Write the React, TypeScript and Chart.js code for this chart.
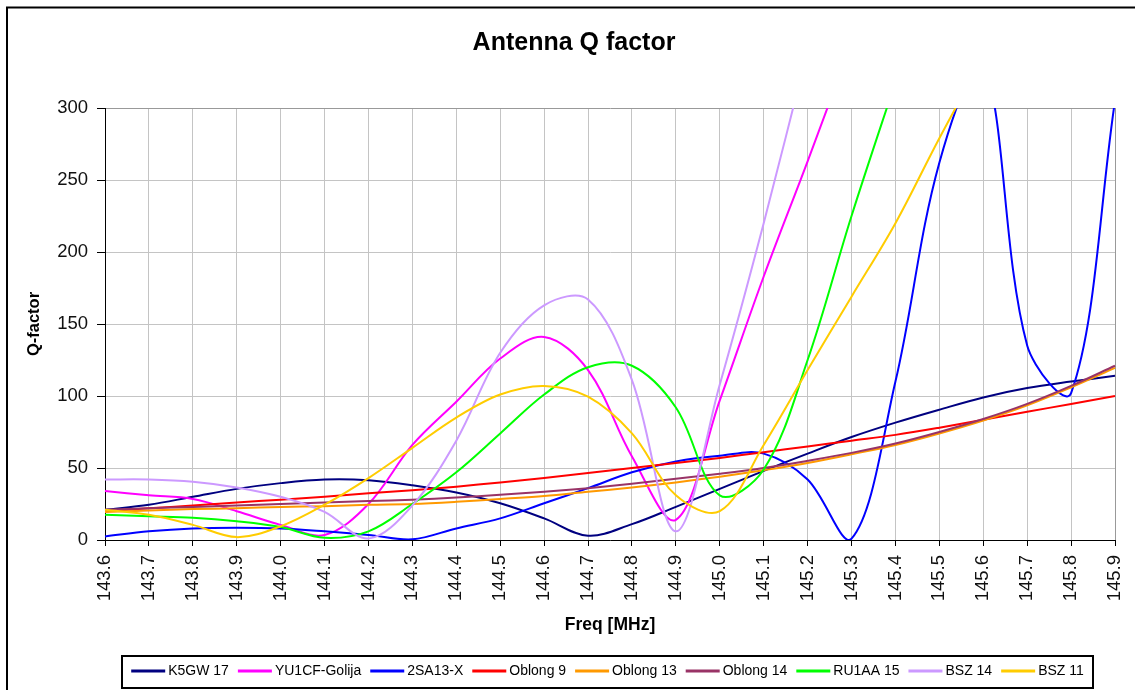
import React, { useEffect, useRef } from "react";
import { Chart, registerables } from "chart.js";

Chart.register(...registerables);

const FREQS = [
  "143.6", "143.7", "143.8", "143.9", "144.0", "144.1", "144.2", "144.3",
  "144.4", "144.5", "144.6", "144.7", "144.8", "144.9", "145.0", "145.1",
  "145.2", "145.3", "145.4", "145.5", "145.6", "145.7", "145.8", "145.9",
];

const K5GW_17 = [21, 24.5, 30, 35.5, 39.5, 42, 41.5, 38, 33, 25.5, 15, 3, 11, 23, 35.5, 48, 60, 71.5, 81.5, 90.5, 99, 105.5, 110, 114];
const YU1CF_GOLIJA = [34, 31, 28.5, 20, 10.5, 3.5, 25, 66, 96, 126, 141, 118, 58, 14, 97, 183, 263, 345, 425, 500, 570, 640, 700, 760];
const SA13_X = [2.5, 6, 8, 8.5, 8, 6, 3.5, 0.5, 8, 15, 25.5, 36, 47, 54.5, 58.5, 60, 42, 1, 110, 262, 330, 135, 102, 305];
const OBLONG_9 = [20, 22, 24, 26, 28, 30, 32.5, 34.5, 37, 40, 43, 46.5, 50, 53.5, 57, 61, 65, 69, 73, 78, 83.5, 89, 94.5, 100];
const OBLONG_13 = [19.5, 20.5, 21.5, 22, 23, 23.5, 24.5, 25, 26.5, 28.5, 30.5, 33.5, 36.5, 40, 44, 48.5, 53.5, 59.5, 66, 74, 83, 93.5, 106, 119.5];
const OBLONG_14 = [21, 22, 23, 24, 25, 26, 27, 28, 29.5, 31.5, 33.5, 36, 39, 42.5, 46, 50, 55, 60.5, 67, 75, 84, 94.5, 107, 121];
const RU1AA_15 = [17.5, 16.5, 15.5, 13, 9, 1.5, 6, 25, 47, 74, 101, 120, 121, 92, 31, 49, 125, 225, 318, 410, 490, 560, 620, 680];
const BSZ_14 = [42, 42, 40.5, 36.5, 30, 19.5, 1, 24, 69, 130, 163, 167, 111, 6, 108, 220, 340, 460, 570, 670, 760, 850, 930, 1000];
const BSZ_11 = [21, 17.5, 10.5, 2, 9.5, 24.5, 43, 64, 85, 101, 107, 99.5, 74, 31, 20, 66, 118, 169, 220, 279, 335, 390, 440, 490];

const SERIES_NAMES = ["K5GW 17", "YU1CF-Golija", "2SA13-X", "Oblong 9", "Oblong 13", "Oblong 14", "RU1AA 15", "BSZ 14", "BSZ 11"];
const SERIES_COLORS = ["#000080", "#FF00FF", "#0000FF", "#FF0000", "#FF9900", "#993366", "#00FF00", "#CC99FF", "#FFCC00"];
const SERIES_DATA = [K5GW_17, YU1CF_GOLIJA, SA13_X, OBLONG_9, OBLONG_13, OBLONG_14, RU1AA_15, BSZ_14, BSZ_11];

const Y_MIN = 0;
const Y_MAX = 300;
const Y_STEP = 50;

const TITLE = "Antenna Q factor";
const X_TITLE = "Freq [MHz]";
const Y_TITLE = "Q-factor";

const FONT = "'Liberation Sans', Arial, Helvetica, sans-serif";

const decorPlugin = {
  id: "decor",
  beforeDraw(chart: any) {
    const { ctx, width, height } = chart;
    ctx.save();
    ctx.fillStyle = "#ffffff";
    ctx.fillRect(0, 0, width, height);
    ctx.strokeStyle = "#000000";
    ctx.lineWidth = 2;
    ctx.strokeRect(7, 7.5, 1135, 720);
    ctx.restore();
  },
  afterDraw(chart: any) {
    const { ctx, chartArea: a } = chart;
    ctx.save();
    ctx.fillStyle = "#000000";
    ctx.textAlign = "center";
    ctx.textBaseline = "middle";
    ctx.font = `bold 25px ${FONT}`;
    ctx.fillText(TITLE, 574, 43);

    ctx.font = `bold 17.5px ${FONT}`;
    ctx.fillText(X_TITLE, (a.left + a.right) / 2, a.bottom + 85);

    ctx.save();
    ctx.translate(34, (a.top + a.bottom) / 2);
    ctx.rotate(-Math.PI / 2);
    ctx.font = `bold 16.5px ${FONT}`;
    ctx.fillText(Y_TITLE, 0, 0);
    ctx.restore();

    // legend
    const boxL = a.left + 17;
    const boxR = a.right - 22;
    const boxT = a.bottom + 116;
    const boxB = a.bottom + 148;
    ctx.lineWidth = 2;
    ctx.strokeStyle = "#000000";
    ctx.strokeRect(boxL, boxT, boxR - boxL, boxB - boxT);

    ctx.font = `14px ${FONT}`;
    ctx.textAlign = "left";
    const lineLen = 34;
    const gap = 3;
    const itemGap = 9;
    const widths = SERIES_NAMES.map((n) => ctx.measureText(n).width);
    const total =
      widths.reduce((s, w) => s + w + lineLen + gap, 0) + itemGap * (SERIES_NAMES.length - 1);
    let x = (boxL + boxR) / 2 - total / 2;
    const cy = (boxT + boxB) / 2 - 1;
    SERIES_NAMES.forEach((name, i) => {
      ctx.strokeStyle = SERIES_COLORS[i];
      ctx.lineWidth = 3;
      ctx.beginPath();
      ctx.moveTo(x, cy);
      ctx.lineTo(x + lineLen, cy);
      ctx.stroke();
      ctx.fillStyle = "#000000";
      ctx.fillText(name, x + lineLen + gap, cy);
      x += lineLen + gap + widths[i] + itemGap;
    });
    ctx.restore();
  },
};

export default function App() {
  const canvasRef = useRef<HTMLCanvasElement | null>(null);

  useEffect(() => {
    if (!canvasRef.current) return;
    const datasets = SERIES_DATA.map((d, i) => ({
      label: SERIES_NAMES[i],
      data: d,
      borderColor: SERIES_COLORS[i],
      backgroundColor: SERIES_COLORS[i],
      borderWidth: 2,
      pointRadius: 0,
      pointHoverRadius: 0,
      tension: 0.35,
      fill: false,
      order: SERIES_DATA.length - i,
    }));

    const chart = new Chart(canvasRef.current, {
      type: "line",
      data: { labels: FREQS, datasets },
      options: {
        responsive: false,
        animation: false,
        events: [],
        layout: { padding: { top: 108, left: 0, right: 20, bottom: 70 } },
        elements: { line: { capBezierPoints: false } },
        plugins: {
          legend: { display: false },
          title: { display: false },
          tooltip: { enabled: false },
        },
        scales: {
          x: {
            type: "category",
            offset: false,
            afterFit: (scale: any) => {
              scale.height = 80;
              scale.paddingLeft = 0;
              scale.paddingRight = 0;
            },
            grid: {
              color: (ctx: any) => (ctx.index === FREQS.length - 1 ? "#999999" : "#C4C4C4"),
              lineWidth: 1,
              tickLength: 6,
              tickColor: "#000000",
              offset: false,
            },
            border: { color: "#000000", width: 1 },
            ticks: {
              autoSkip: false,
              minRotation: 90,
              maxRotation: 90,
              padding: 9,
              color: "#111111",
              font: { family: FONT, size: 18.5 },
            },
          },
          y: {
            min: Y_MIN,
            max: Y_MAX,
            afterFit: (scale: any) => {
              scale.width = 105;
              scale.paddingTop = 0;
              scale.paddingBottom = 0;
            },
            grid: {
              color: (ctx: any) => (ctx.tick && ctx.tick.value === Y_MAX ? "#999999" : "#C4C4C4"),
              lineWidth: 1,
              tickLength: 8,
              tickColor: "#000000",
            },
            border: { color: "#000000", width: 1 },
            ticks: {
              stepSize: Y_STEP,
              padding: 9,
              color: "#111111",
              font: { family: FONT, size: 18.5 },
            },
          },
        },
      },
      plugins: [decorPlugin],
    } as any);

    return () => chart.destroy();
  }, []);

  return (
    <div style={{ position: "fixed", left: 0, top: 0, width: 1135, height: 690, background: "#fff" }}>
      <canvas ref={canvasRef} width={1135} height={690} style={{ display: "block" }} />
    </div>
  );
}
